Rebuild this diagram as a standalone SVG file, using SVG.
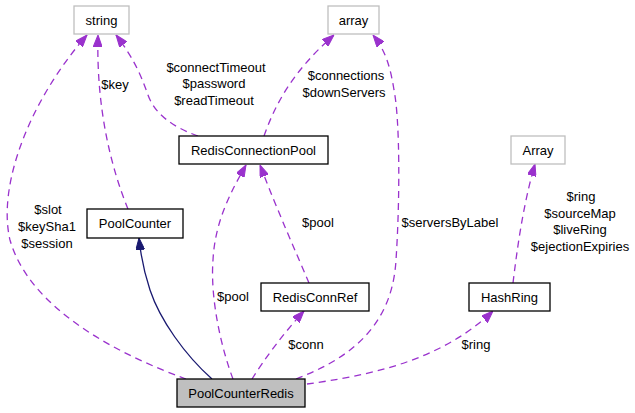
<svg xmlns="http://www.w3.org/2000/svg" width="635" height="413" viewBox="0 0 635 413">
<style>
text{font-family:"Liberation Sans",Arial,sans-serif;font-size:13px;fill:#000;text-anchor:middle}
.n{fill:#fff;stroke:#000;stroke-width:1.3}
.g{fill:#fff;stroke:#bfbfbf;stroke-width:1.3}
.cur{fill:#bfbfbf;stroke:#000;stroke-width:1.3}
.d{fill:none;stroke:#9a32cd;stroke-width:1.3;stroke-dasharray:7,5}
.s{fill:none;stroke:#191970;stroke-width:1.3}
</style>
<defs>
<marker id="ap" markerUnits="userSpaceOnUse" markerWidth="12" markerHeight="9" refX="12" refY="4.5" orient="auto">
<path d="M0,0 L12,4.5 L0,9 z" fill="#9a32cd" stroke="#9a32cd"/>
</marker>
<marker id="an" markerUnits="userSpaceOnUse" markerWidth="12" markerHeight="9" refX="12" refY="4.5" orient="auto">
<path d="M0,0 L12,4.5 L0,9 z" fill="#191970" stroke="#191970"/>
</marker>
</defs>
<g id="edges">
<path class="d" marker-end="url(#ap)" d="M186,379 C120,355 30,310 10,240 C-3,185 30,100 87,35"/>
<text x="48" y="214">$slot</text>
<text x="47" y="231">$keySha1</text>
<text x="47" y="248">$session</text>
<path class="d" marker-end="url(#ap)" d="M128,209 C112,170 96,110 98,35"/>
<text x="115" y="89">$key</text>
<path class="d" marker-end="url(#ap)" d="M198,136 C175,128 155,115 148,95 C140,72 132,56 116,35"/>
<text x="216" y="72">$connectTimeout</text>
<text x="214" y="88">$password</text>
<text x="214" y="105">$readTimeout</text>
<path class="d" marker-end="url(#ap)" d="M264,136 C275,105 292,72 334,35"/>
<text x="346" y="80">$connections</text>
<text x="344" y="97">$downServers</text>
<path class="d" marker-end="url(#ap)" d="M296,379 C345,360 392,330 396,260 C400,200 400,120 394,90 C390,65 385,50 373,35"/>
<text x="450" y="227">$serversByLabel</text>
<path class="d" marker-end="url(#ap)" d="M233,379 C222,350 210,300 213,260 C215,220 232,190 246,165"/>
<text x="233" y="301">$pool</text>
<path class="d" marker-end="url(#ap)" d="M309,283 C295,250 278,212 260,165"/>
<text x="318" y="227">$pool</text>
<path class="d" marker-end="url(#ap)" d="M252,379 C264,360 282,335 304,311"/>
<text x="306" y="349">$conn</text>
<path class="d" marker-end="url(#ap)" d="M307,384 C365,376 440,362 493,311"/>
<text x="476" y="349">$ring</text>
<path class="d" marker-end="url(#ap)" d="M513,283 C517,250 523,205 535,164"/>
<text x="581" y="201">$ring</text>
<text x="580" y="218">$sourceMap</text>
<text x="580" y="234">$liveRing</text>
<text x="580" y="251">$ejectionExpiries</text>
<path class="s" marker-end="url(#an)" d="M212,379 C185,355 160,320 150,290 C144,272 141,258 139,238"/>
</g>
<g id="string"><rect class="g" x="74" y="6" width="55" height="28"/><text x="101.5" y="24.5">string</text></g>
<g id="array"><rect class="g" x="328" y="6" width="51" height="28"/><text x="353.5" y="24.5">array</text></g>
<g id="RedisConnectionPool"><rect class="n" x="179" y="136" width="149" height="28"/><text x="253.5" y="154.5">RedisConnectionPool</text></g>
<g id="ArrayNode"><rect class="g" x="511" y="136" width="54" height="28"/><text x="538" y="154.5">Array</text></g>
<g id="PoolCounter"><rect class="n" x="87" y="209" width="96" height="29"/><text x="135" y="228">PoolCounter</text></g>
<g id="RedisConnRef"><rect class="n" x="261" y="283" width="108" height="28"/><text x="315" y="301.5">RedisConnRef</text></g>
<g id="HashRing"><rect class="n" x="469" y="283" width="81" height="28"/><text x="509.5" y="301.5">HashRing</text></g>
<g id="PoolCounterRedis"><rect class="cur" x="177" y="379" width="128" height="28"/><text x="241" y="397.5">PoolCounterRedis</text></g>
</svg>
